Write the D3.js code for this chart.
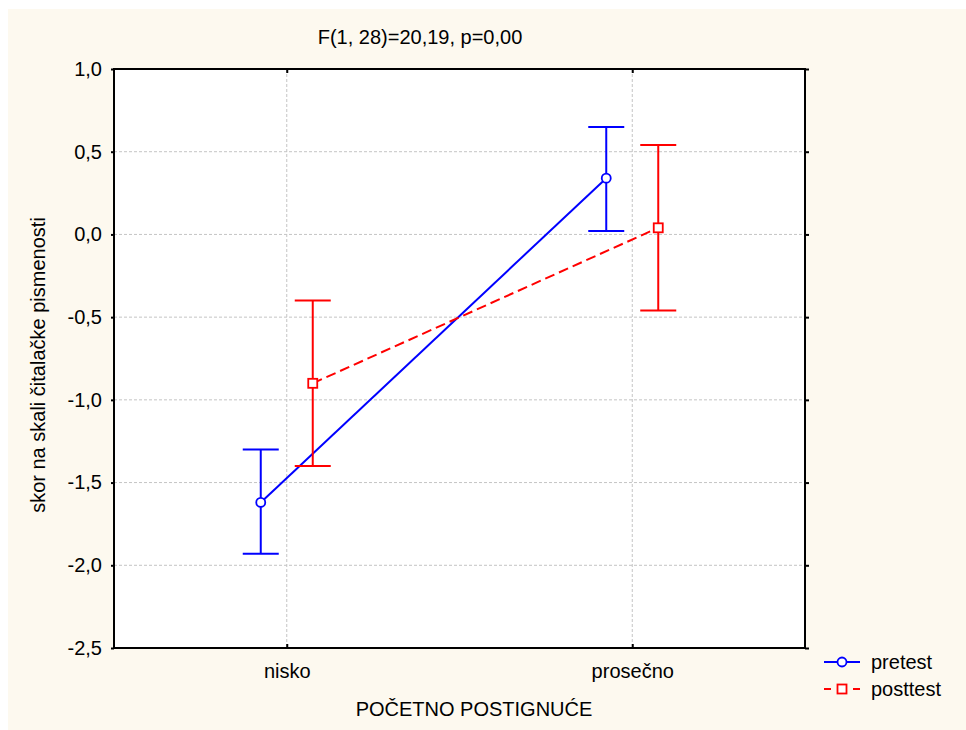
<!DOCTYPE html>
<html>
<head>
<meta charset="utf-8">
<script src="https://cdn.jsdelivr.net/npm/d3@7"></script>
<style>
  body { margin: 0; background: #fff; }
  text { font-family: Arial, "Liberation Sans", sans-serif; fill: #000; }
</style>
</head>
<body>
<div id="chart"></div>
<script>
// data
let categories = ["nisko", "prosečno"];
let seriesNames = ["pretest", "posttest"];
let pretestMean = [-1.62, 0.34];
let pretestLow = [-1.93, 0.02];
let pretestHigh = [-1.30, 0.65];
let posttestMean = [-0.90, 0.04];
let posttestLow = [-1.40, -0.46];
let posttestHigh = [-0.40, 0.54];
let yTicks = [1.0, 0.5, 0.0, -0.5, -1.0, -1.5, -2.0, -2.5];

let svgWidth = 966;
let svgHeight = 730;

let margin = { top: 69, right: 161, bottom: 82, left: 114 };
let width = svgWidth - margin.left - margin.right;
let height = svgHeight - margin.top - margin.bottom;

let svg = d3.select("#chart")
  .append("svg")
  .attr("width", svgWidth)
  .attr("height", svgHeight);

// cream background
svg.append("rect")
  .attr("x", 8).attr("y", 9)
  .attr("width", svgWidth - 8).attr("height", svgHeight - 9)
  .attr("fill", "#fdf9ef");

let chartGroup = svg.append("g")
  .attr("transform", `translate(${margin.left}, ${margin.top})`);

chartGroup.append("rect")
  .attr("width", width).attr("height", height)
  .attr("fill", "#fff");

let xScale = d3.scalePoint().domain(categories).range([0, width]).padding(0.5);
let offset = d3.scalePoint().domain(seriesNames).range([-26, 26]);
let yScale = d3.scaleLinear().domain([-2.5, 1.0]).range([height, 0]);

let fmt = d => d3.format(".1f")(d).replace(".", ",").replace("−", "-");

// grid
chartGroup.append("g")
  .selectAll("line")
  .data(yTicks.slice(1, -1))
  .enter().append("line")
  .attr("x1", 0).attr("x2", width)
  .attr("y1", d => yScale(d)).attr("y2", d => yScale(d))
  .attr("stroke", "#c4c4c4").attr("stroke-dasharray", "3,2");

chartGroup.append("g")
  .selectAll("line")
  .data(categories)
  .enter().append("line")
  .attr("x1", d => xScale(d)).attr("x2", d => xScale(d))
  .attr("y1", 0).attr("y2", height)
  .attr("stroke", "#c4c4c4").attr("stroke-dasharray", "3,2");

// axes
let leftAxis = d3.axisLeft(yScale).tickValues(yTicks).tickSize(3).tickPadding(9).tickFormat(fmt);
let rightAxis = d3.axisLeft(yScale).tickValues(yTicks).tickSize(-4).tickFormat("");
let bottomAxis = d3.axisBottom(xScale).tickSize(-4).tickPadding(16);
let topAxis = d3.axisBottom(xScale).tickSize(4).tickFormat("");

function styleAxis(g) {
  g.select(".domain").remove();
  g.selectAll(".tick line").attr("stroke", "#000").attr("stroke-width", 2);
  g.selectAll(".tick text").attr("font-size", 20).attr("fill", "#000");
}

chartGroup.append("g").call(leftAxis).call(styleAxis);
chartGroup.append("g").attr("transform", `translate(${width},0)`).call(rightAxis).call(styleAxis);
chartGroup.append("g").attr("transform", `translate(0,${height})`).call(bottomAxis).call(styleAxis);
chartGroup.append("g").call(topAxis).call(styleAxis);

// frame
chartGroup.append("rect")
  .attr("width", width).attr("height", height)
  .attr("fill", "none").attr("stroke", "#000").attr("stroke-width", 2);

// series
let series = [
  { name: "pretest", color: "#0000ff", mean: pretestMean, low: pretestLow, high: pretestHigh, dash: null, shape: "circle" },
  { name: "posttest", color: "#ff0000", mean: posttestMean, low: posttestLow, high: posttestHigh, dash: "10,5", shape: "square" }
];

series.forEach(function(s) {
  let g = chartGroup.append("g");
  let px = i => xScale(categories[i]) + offset(s.name);
  let idx = d3.range(categories.length);

  // connecting line
  g.append("path")
    .datum(idx)
    .attr("d", d3.line().x(i => px(i)).y(i => yScale(s.mean[i])))
    .attr("fill", "none")
    .attr("stroke", s.color).attr("stroke-width", 2)
    .attr("stroke-dasharray", s.dash);

  // error bars
  idx.forEach(function(i) {
    let x = px(i);
    g.append("line")
      .attr("x1", x).attr("x2", x)
      .attr("y1", yScale(s.low[i])).attr("y2", yScale(s.high[i]))
      .attr("stroke", s.color).attr("stroke-width", 2);
    [s.low[i], s.high[i]].forEach(function(v) {
      g.append("line")
        .attr("x1", x - 18).attr("x2", x + 18)
        .attr("y1", yScale(v)).attr("y2", yScale(v))
        .attr("stroke", s.color).attr("stroke-width", 2);
    });
    if (s.shape === "circle") {
      g.append("circle")
        .attr("cx", x).attr("cy", yScale(s.mean[i])).attr("r", 4.5)
        .attr("fill", "#fff").attr("stroke", s.color).attr("stroke-width", 1.8);
    } else {
      g.append("rect")
        .attr("x", x - 4.5).attr("y", yScale(s.mean[i]) - 4.5)
        .attr("width", 9).attr("height", 9)
        .attr("fill", "#fff").attr("stroke", s.color).attr("stroke-width", 1.8);
    }
  });
});

// title
svg.append("text")
  .attr("x", 420).attr("y", 44)
  .attr("text-anchor", "middle").attr("font-size", 20)
  .text("F(1, 28)=20,19, p=0,00");

// axis titles
svg.append("text")
  .attr("x", 474).attr("y", 716)
  .attr("text-anchor", "middle").attr("font-size", 20)
  .text("POČETNO POSTIGNUĆE");

svg.append("text")
  .attr("transform", "translate(45, 365) rotate(-90)")
  .attr("text-anchor", "middle").attr("font-size", 20)
  .text("skor na skali čitalačke pismenosti");

// legend
let legend = svg.append("g");
series.forEach(function(s, i) {
  let y = 662 + i * 27;
  legend.append("line")
    .attr("x1", 824).attr("x2", 860)
    .attr("y1", y).attr("y2", y)
    .attr("stroke", s.color).attr("stroke-width", 2)
    .attr("stroke-dasharray", s.dash ? "7,22,7" : null);
  if (s.shape === "circle") {
    legend.append("circle")
      .attr("cx", 842).attr("cy", y).attr("r", 4.5)
      .attr("fill", "#fff").attr("stroke", s.color).attr("stroke-width", 1.8);
  } else {
    legend.append("rect")
      .attr("x", 837.5).attr("y", y - 4.5).attr("width", 9).attr("height", 9)
      .attr("fill", "#fff").attr("stroke", s.color).attr("stroke-width", 1.8);
  }
  legend.append("text")
    .attr("x", 871).attr("y", y + 7)
    .attr("font-size", 20)
    .text(s.name);
});
</script>
</body>
</html>
